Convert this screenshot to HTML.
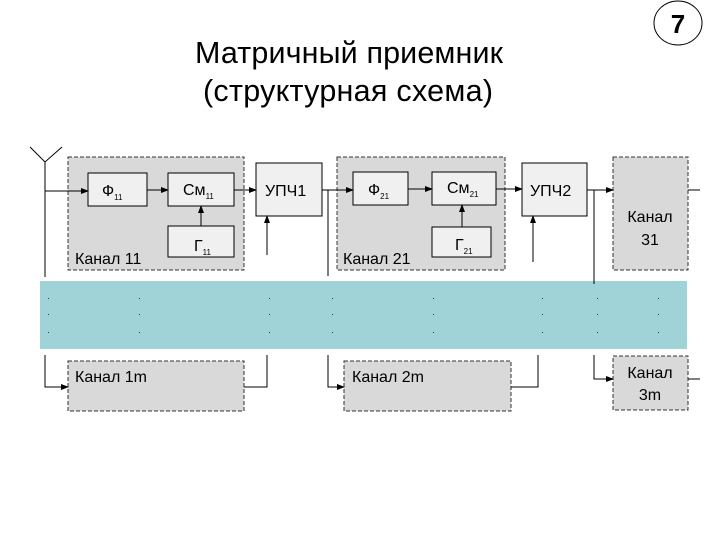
<!DOCTYPE html>
<html><head><meta charset="utf-8"><style>
body{margin:0;background:#fff;width:720px;height:540px;overflow:hidden}
svg{display:block;font-family:"Liberation Sans",sans-serif}
</style></head><body>
<svg width="720" height="540" viewBox="0 0 720 540">
<defs><marker id="a" markerWidth="8" markerHeight="6" refX="7" refY="3" orient="auto" markerUnits="userSpaceOnUse"><path d="M0,0L8,3L0,6z" fill="#000"/></marker>
<g id="d" fill="#333"><rect x="0" y="298" width="1" height="1"/><rect x="0" y="314" width="1" height="1"/><rect x="0" y="332" width="1" height="1"/></g></defs>
<text x="349" y="63" font-size="30.5" text-anchor="middle" textLength="308">Матричный приемник</text>
<text x="348" y="101" font-size="30.5" text-anchor="middle" textLength="290">(структурная схема)</text>
<ellipse cx="678" cy="23" rx="24" ry="22" fill="#fff" stroke="#000"/>
<text x="678" y="33" font-size="26" font-weight="bold" text-anchor="middle">7</text>
<g stroke="#000" stroke-width="1" fill="none">
<path d="M30,147L45,162L62,147M45,162V277"/>
</g>
<g stroke="#333" stroke-dasharray="4,2" fill="#d9d9d9">
<rect x="68" y="157" width="176" height="113"/>
<rect x="337" y="157" width="168" height="113"/>
<rect x="613" y="157" width="75" height="113"/>
<rect x="68" y="361" width="176" height="50"/>
<rect x="344" y="361" width="167" height="50"/>
<rect x="613" y="356" width="75" height="54"/>
</g>
<g stroke="#000" fill="#f0f0f0">
<rect x="88" y="173" width="59" height="33"/>
<rect x="168" y="173" width="66" height="33"/>
<rect x="168" y="226" width="66" height="31"/>
<rect x="256" y="163" width="66" height="53"/>
<rect x="353" y="172" width="55" height="33"/>
<rect x="432" y="172" width="64" height="33"/>
<rect x="432" y="227" width="59" height="30"/>
<rect x="522" y="163" width="65" height="53"/>
</g>
<rect x="40" y="281" width="647" height="68" fill="#9fd3d8"/>
<g stroke="#000" fill="none" marker-end="url(#a)">
<path d="M45,191H88"/><path d="M147,190H168"/><path d="M234,190H256"/>
<path d="M201,226V206"/><path d="M267,255V216"/>
<path d="M322,190H353"/><path d="M408,189H432"/><path d="M496,189H522"/>
<path d="M462,227V205"/><path d="M533,262V216"/>
<path d="M587,190H613"/>
<path d="M45,355V387H68"/><path d="M328,355V387H344"/><path d="M594,355V379H613"/>
</g>
<g stroke="#000" fill="none">
<path d="M328,190V276"/><path d="M594,190V284"/><path d="M688,190H700"/>
<path d="M244,387H267V355"/><path d="M511,387H538V355"/><path d="M688,379H700"/>
</g>
<g font-size="16" fill="#000">
<text x="102" y="196">Ф<tspan font-size="8" dy="4">11</tspan></text>
<text x="183" y="195">См<tspan font-size="8" dy="4">11</tspan></text>
<text x="194" y="251">Г<tspan font-size="8" dy="4">11</tspan></text>
<text x="265" y="196">УПЧ1</text>
<text x="368" y="195">Ф<tspan font-size="8" dy="4">21</tspan></text>
<text x="447" y="193">См<tspan font-size="8" dy="4">21</tspan></text>
<text x="455" y="250">Г<tspan font-size="8" dy="4">21</tspan></text>
<text x="530" y="196">УПЧ2</text>
<text x="75" y="264">Канал 11</text>
<text x="343" y="264">Канал 21</text>
<text x="650" y="222" text-anchor="middle">Канал</text>
<text x="650" y="245" text-anchor="middle">31</text>
<text x="75" y="382">Канал 1m</text>
<text x="352" y="382">Канал 2m</text>
<text x="650" y="378" text-anchor="middle">Канал</text>
<text x="650" y="400" text-anchor="middle">3m</text>
</g>
<use href="#d" x="48"/><use href="#d" x="139"/><use href="#d" x="269"/><use href="#d" x="332"/>
<use href="#d" x="433"/><use href="#d" x="542"/><use href="#d" x="597"/><use href="#d" x="658"/>
</svg>
</body></html>
